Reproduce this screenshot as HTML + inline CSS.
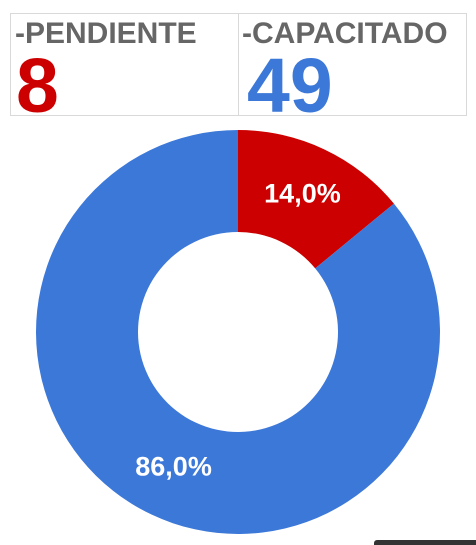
<!DOCTYPE html>
<html><head><meta charset="utf-8"><style>
body{margin:0;width:476px;height:545px;background:#fff;position:relative;overflow:hidden;font-family:"Liberation Sans",Arial,sans-serif}
.box{position:absolute;top:13px;height:103px;border:1px solid #d9d9d9;box-sizing:border-box}
.lbl{position:absolute;top:3px;font-weight:bold;font-size:30px;color:#666;letter-spacing:0px}
.num{position:absolute;top:32px;font-weight:bold;font-size:77px;line-height:80px}
</style></head><body>
<div class="box" style="left:10px;width:229px">
 <div class="lbl" style="left:4px">-PENDIENTE</div>
 <div class="num" style="left:5px;color:#cc0000">8</div>
</div>
<div class="box" style="left:238px;width:229px">
 <div class="lbl" style="left:3px">-CAPACITADO</div>
 <div class="num" style="left:8px;color:#3c78d8">49</div>
</div>
<svg id="chart" width="476" height="545" style="position:absolute;left:0;top:0"></svg>
<div style="position:absolute;left:374px;top:540px;width:102px;height:5px;background:#333;border-top-left-radius:3px"></div>
<script>
const categories=["PENDIENTE","CAPACITADO"];
const values=[8,49];
const colors=["#cc0000","#3c78d8"];
const svg=document.getElementById('chart');
const NS="http://www.w3.org/2000/svg";
const cx=238,cy=332,R=202,r=100;
const total=values.reduce((a,b)=>a+b,0);
let start=0;
function pt(a,rad){return [cx+rad*Math.sin(a),cy-rad*Math.cos(a)];}
values.forEach((v,i)=>{
 const frac=v/total;const a0=start*2*Math.PI,a1=(start+frac)*2*Math.PI;
 const large=frac>0.5?1:0;
 const [x0,y0]=pt(a0,R),[x1,y1]=pt(a1,R),[x2,y2]=pt(a1,r),[x3,y3]=pt(a0,r);
 const p=document.createElementNS(NS,'path');
 p.setAttribute('d',`M${x0},${y0}A${R},${R} 0 ${large} 1 ${x1},${y1}L${x2},${y2}A${r},${r} 0 ${large} 0 ${x3},${y3}Z`);
 p.setAttribute('fill',colors[i]);
 
 
 svg.appendChild(p);
 const am=(a0+a1)/2;const [tx,ty]=pt(am,(R+r)/2);
 const t=document.createElementNS(NS,'text');
 t.setAttribute('x',tx);t.setAttribute('y',ty+7);
 t.setAttribute('text-anchor','middle');t.setAttribute('fill','#fff');
 t.setAttribute('font-size','27');t.setAttribute('font-weight','bold');
 t.setAttribute('font-family','Liberation Sans, sans-serif');
 t.textContent=(frac*100).toFixed(1).replace('.',',')+'%';
 
 
 svg.appendChild(t);
 start+=frac;
});
</script>
</body></html>
